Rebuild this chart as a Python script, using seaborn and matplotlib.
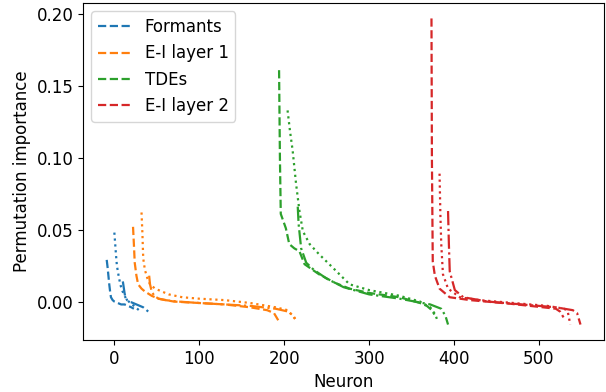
import matplotlib
matplotlib.use("Agg")
import matplotlib.pyplot as plt
from matplotlib.lines import Line2D
import numpy as np
import pandas as pd
import seaborn as sns

groups = ["Formants", "E-I layer 1", "TDEs", "E-I layer 2"]
colors = ["#1f77b4", "#ff7f0e", "#2ca02c", "#d62728"]
trials = ["dashed", "dotted", "dashdot"]

# ---- Formants ----
formants_dashed_x = [-9, -8, -7, -6, -5, -4, -2, 0, 4, 8, 12, 16, 20, 23]
formants_dashed_y = [0.029, 0.024, 0.018, 0.012, 0.007, 0.003, 0.001, 0.000, -0.001, -0.002, -0.002, -0.003, -0.004, -0.005]
formants_dotted_x = [0, 1, 2, 3, 5, 7, 9, 12, 15, 19, 23, 27, 31]
formants_dotted_y = [0.048, 0.040, 0.032, 0.025, 0.018, 0.012, 0.008, 0.004, 0.001, -0.001, -0.003, -0.005, -0.007]
formants_dashdot_x = [10, 11, 12, 13, 15, 18, 22, 26, 30, 34, 38, 40]
formants_dashdot_y = [0.014, 0.010, 0.006, 0.003, 0.001, 0.000, -0.001, -0.002, -0.003, -0.004, -0.006, -0.007]

# ---- E-I layer 1 ----
ei1_dashed_x = [22, 23, 24, 26, 28, 32, 36, 44, 52, 70, 100, 130, 160, 180, 188, 191, 193]
ei1_dashed_y = [0.052, 0.040, 0.027, 0.018, 0.012, 0.009, 0.007, 0.004, 0.002, 0.000, -0.001, -0.002, -0.004, -0.006, -0.008, -0.011, -0.013]
ei1_dotted_x = [32, 33, 34, 36, 39, 42, 48, 56, 64, 80, 100, 130, 160, 190, 204, 210, 214]
ei1_dotted_y = [0.062, 0.048, 0.030, 0.022, 0.016, 0.012, 0.009, 0.007, 0.005, 0.003, 0.002, 0.001, -0.001, -0.004, -0.006, -0.010, -0.013]
ei1_dashdot_x = [41, 42, 44, 47, 52, 60, 75, 100, 130, 160, 190, 205, 211, 213]
ei1_dashdot_y = [0.018, 0.012, 0.007, 0.004, 0.002, 0.001, 0.000, -0.001, -0.002, -0.003, -0.005, -0.007, -0.010, -0.012]

# ---- TDEs ----
tdes_dashed_x = [194, 195, 196, 202, 206, 212, 218, 224, 241, 260, 277, 300, 336, 360, 368, 374, 377]
tdes_dashed_y = [0.161, 0.100, 0.061, 0.051, 0.040, 0.037, 0.035, 0.026, 0.019, 0.013, 0.009, 0.006, 0.003, -0.001, -0.003, -0.006, -0.009]
tdes_dotted_x = [204, 207, 210, 214, 218, 222, 230, 241, 260, 277, 300, 336, 360, 372, 378, 381]
tdes_dotted_y = [0.133, 0.118, 0.105, 0.082, 0.063, 0.049, 0.040, 0.033, 0.022, 0.012, 0.008, 0.004, 0.000, -0.004, -0.009, -0.014]
tdes_dashdot_x = [216, 217, 220, 226, 235, 250, 270, 300, 336, 372, 385, 390, 393]
tdes_dashdot_y = [0.066, 0.054, 0.037, 0.027, 0.022, 0.016, 0.010, 0.005, 0.002, -0.002, -0.005, -0.010, -0.016]

# ---- E-I layer 2 ----
ei2_dashed_x = [373.5, 374, 375, 377.5, 383, 395, 419, 466, 505, 520, 525, 529]
ei2_dashed_y = [0.197, 0.100, 0.028, 0.018, 0.009, 0.003, 0.001, -0.0015, -0.004, -0.005, -0.007, -0.011]
ei2_dotted_x = [383, 384, 385, 387, 393, 407, 430, 470, 510, 530, 534, 537]
ei2_dotted_y = [0.089, 0.060, 0.040, 0.019, 0.009, 0.003, 0.001, -0.001, -0.003, -0.005, -0.007, -0.016]
ei2_dashdot_x = [393, 394, 395, 401, 411, 440, 480, 520, 540, 545, 549]
ei2_dashdot_y = [0.063, 0.040, 0.021, 0.008, 0.003, 0.000, -0.002, -0.004, -0.006, -0.008, -0.016]

series = {
    ("Formants", "dashed"): (formants_dashed_x, formants_dashed_y),
    ("Formants", "dotted"): (formants_dotted_x, formants_dotted_y),
    ("Formants", "dashdot"): (formants_dashdot_x, formants_dashdot_y),
    ("E-I layer 1", "dashed"): (ei1_dashed_x, ei1_dashed_y),
    ("E-I layer 1", "dotted"): (ei1_dotted_x, ei1_dotted_y),
    ("E-I layer 1", "dashdot"): (ei1_dashdot_x, ei1_dashdot_y),
    ("TDEs", "dashed"): (tdes_dashed_x, tdes_dashed_y),
    ("TDEs", "dotted"): (tdes_dotted_x, tdes_dotted_y),
    ("TDEs", "dashdot"): (tdes_dashdot_x, tdes_dashdot_y),
    ("E-I layer 2", "dashed"): (ei2_dashed_x, ei2_dashed_y),
    ("E-I layer 2", "dotted"): (ei2_dotted_x, ei2_dotted_y),
    ("E-I layer 2", "dashdot"): (ei2_dashdot_x, ei2_dashdot_y),
}

rows = []
for (g, t), (xs, ys) in series.items():
    for x, y in zip(xs, ys):
        rows.append({"group": g, "trial": t, "neuron": x, "importance": y})
df = pd.DataFrame(rows)

plt.rcParams["font.family"] = ["DejaVu Sans"]
plt.rcParams["font.size"] = 12

fig = plt.figure(figsize=(6.06, 3.92), dpi=100)
ax = fig.add_axes([0.137, 0.133, 0.860, 0.859])

linestyles = {"dashed": "--", "dotted": ":", "dashdot": "-."}
for g, c in zip(groups, colors):
    for t in trials:
        sub = df[(df.group == g) & (df.trial == t)]
        sns.lineplot(data=sub, x="neuron", y="importance", color=c,
                     linestyle=linestyles[t], sort=False, estimator=None,
                     ax=ax, legend=False, linewidth=1.6)

ax.set_xlabel("Neuron")
ax.set_ylabel("Permutation importance")
ax.set_xticks([0, 100, 200, 300, 400, 500])
ax.set_yticks([0.0, 0.05, 0.10, 0.15, 0.20])
ax.set_yticklabels(["0.00", "0.05", "0.10", "0.15", "0.20"])

handles = [Line2D([0], [0], color=c, linestyle="--", linewidth=1.6) for c in colors]
ax.legend(handles, groups, loc="upper left")

fig.savefig("out.png", dpi=100)
